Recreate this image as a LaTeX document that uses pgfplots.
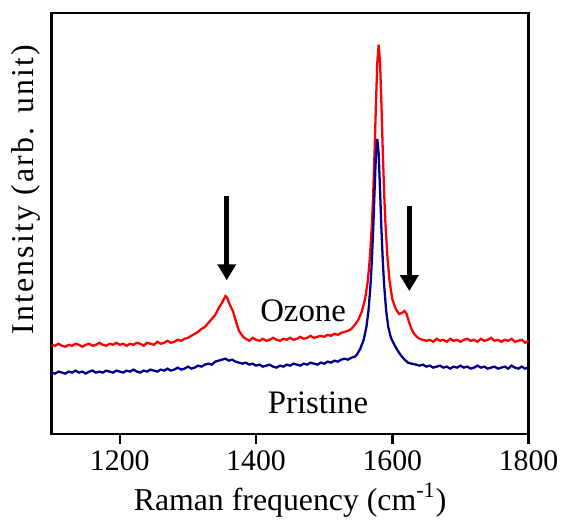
\documentclass[border=0pt]{standalone}
\usepackage{pgfplots}
\pgfplotsset{compat=1.18}
\usepackage{fontspec}
\setmainfont{Liberation Serif}
\usetikzlibrary{arrows.meta}
\definecolor{ozone}{RGB}{255,0,0}
\definecolor{pristine}{RGB}{0,0,140}
\begin{document}
\begin{tikzpicture}
\begin{axis}[
    scale only axis,
    width=240pt, height=212pt,
    xmin=1100, xmax=1800, ymin=0, ymax=424,
    xtick={1200,1400,1600,1800},
    ytick=\empty,
    xtick pos=bottom,
    tick align=outside,
    major tick length=5pt,
    axis line style={line width=1.3pt},
    every tick/.style={black, line width=1.3pt},
    /pgf/number format/assume math mode=true,
    /pgf/number format/set thousands separator={},
    tick label style={font=\fontsize{15}{17}\selectfont},
    label style={font=\fontsize{16}{18}\selectfont},
    xlabel={Raman frequency (cm\textsuperscript{-1})},
    xlabel style={yshift=1pt},
    ylabel={\addfontfeature{LetterSpace=7}Intensity (arb. unit)},
    ylabel style={at={(axis description cs:-0.054,0.58)}, anchor=center},
    clip=false,
]
% Ozone-treated
\addplot[ozone, line width=1.15pt] coordinates {
(1100,90) (1105,89) (1110,91) (1115,89) (1120,88) (1125,90) (1130,89) (1135,91) (1140,90) (1145,88)
(1150,90) (1155,91) (1160,89) (1165,90) (1170,92) (1175,90) (1180,89) (1185,91) (1190,90) (1195,92)
(1200,90) (1205,91) (1210,89) (1215,91) (1220,90) (1225,92) (1230,91) (1235,89) (1240,92) (1245,91)
(1250,90) (1255,93) (1260,91) (1265,92) (1270,94) (1275,92) (1280,93) (1285,95) (1290,94) (1295,96)
(1300,97) (1305,99) (1310,101) (1315,103) (1320,106) (1325,108) (1330,112) (1335,116) (1340,120)
(1343,124) (1346,128) (1349,131) (1352,135) (1355,139) (1357,138) (1359,135) (1361,131) (1363,128)
(1366,124) (1369,117) (1372,110) (1375,104) (1378,101) (1381,98) (1385,96) (1390,94) (1395,97)
(1400,95) (1405,94) (1410,96) (1415,94) (1420,95) (1425,97) (1430,95) (1435,94) (1440,96) (1445,95)
(1450,97) (1455,95) (1460,96) (1465,98) (1470,96) (1475,97) (1480,99) (1485,97) (1490,98) (1495,99)
(1500,98) (1505,100) (1510,99) (1515,101) (1520,100) (1525,102) (1530,103) (1535,104) (1540,106)
(1545,110) (1550,115) (1555,123) (1560,136) (1564,154) (1567,177) (1570,211) (1572,243) (1574,285)
(1576,333) (1578,374) (1580,392) (1582,374) (1584,333) (1586,285) (1588,243) (1590,211) (1593,177)
(1596,154) (1600,136) (1605,126) (1610,121) (1614,122) (1618,124) (1621,121) (1624,114) (1628,106)
(1632,101) (1636,98) (1640,96) (1645,95) (1650,94) (1655,95) (1660,93) (1665,96) (1670,94) (1675,95)
(1680,93) (1685,96) (1690,94) (1695,95) (1700,93) (1705,95) (1710,96) (1715,94) (1720,95) (1725,93)
(1730,96) (1735,94) (1740,95) (1745,97) (1750,94) (1755,95) (1760,93) (1765,95) (1770,94) (1775,96)
(1780,93) (1785,94) (1790,95) (1795,92) (1800,94)
};
% Pristine
\addplot[pristine, line width=1.15pt] coordinates {
(1100,62) (1105,61) (1110,63) (1115,62) (1120,61) (1125,63) (1130,62) (1135,64) (1140,62) (1145,63)
(1150,61) (1155,63) (1160,64) (1165,62) (1170,63) (1175,62) (1180,64) (1185,63) (1190,62) (1195,64)
(1200,63) (1205,62) (1210,64) (1215,63) (1220,65) (1225,63) (1230,62) (1235,64) (1240,63) (1245,65)
(1250,64) (1255,63) (1260,65) (1265,64) (1270,66) (1275,64) (1280,65) (1285,67) (1290,65) (1295,66)
(1300,68) (1305,66) (1310,67) (1315,69) (1320,68) (1325,70) (1330,71) (1335,70) (1340,73) (1345,74)
(1350,75) (1355,76) (1360,74) (1365,75) (1370,73) (1375,72) (1380,71) (1385,72) (1390,70) (1395,71)
(1400,69) (1405,70) (1410,68) (1415,69) (1420,70) (1425,68) (1430,67) (1435,69) (1440,68) (1445,70)
(1450,69) (1455,71) (1460,70) (1465,69) (1470,71) (1475,70) (1480,72) (1485,71) (1490,70) (1495,72)
(1500,71) (1505,73) (1510,72) (1515,74) (1520,73) (1525,75) (1530,76) (1535,75) (1540,77) (1545,78)
(1548,80) (1553,86) (1558,95) (1562,108) (1565,124) (1568,150) (1570,175) (1572,207) (1574,246)
(1576,282) (1578,297) (1580,282) (1582,246) (1584,207) (1586,175) (1588,150) (1591,124) (1594,108)
(1598,97) (1603,90) (1608,84) (1613,79) (1618,75) (1623,72) (1628,71) (1635,70) (1640,69) (1645,70)
(1650,68) (1655,69) (1660,67) (1665,68) (1670,69) (1675,67) (1680,68) (1685,66) (1690,68) (1695,67)
(1700,69) (1705,67) (1710,68) (1715,66) (1720,67) (1725,69) (1730,67) (1735,68) (1740,66) (1745,67)
(1750,68) (1755,66) (1760,67) (1765,68) (1770,66) (1775,69) (1780,67) (1785,66) (1790,68) (1795,66)
(1800,67)
};
\draw[line width=2.5pt, -{Triangle[width=9pt,length=8pt]}] (axis cs:1357,240) -- (axis cs:1357,155);
\draw[line width=2.5pt, -{Triangle[width=9pt,length=8pt]}] (axis cs:1625,230) -- (axis cs:1625,144);
\node[font=\fontsize{16.5}{19}\selectfont] at (axis cs:1469,124) {Ozone};
\node[font=\fontsize{16.5}{19}\selectfont] at (axis cs:1491,32) {Pristine};
\end{axis}
\path (current axis.south west) ++(-26pt,-42.5pt) rectangle ++(282.5pt,261pt);
\end{tikzpicture}
\end{document}
